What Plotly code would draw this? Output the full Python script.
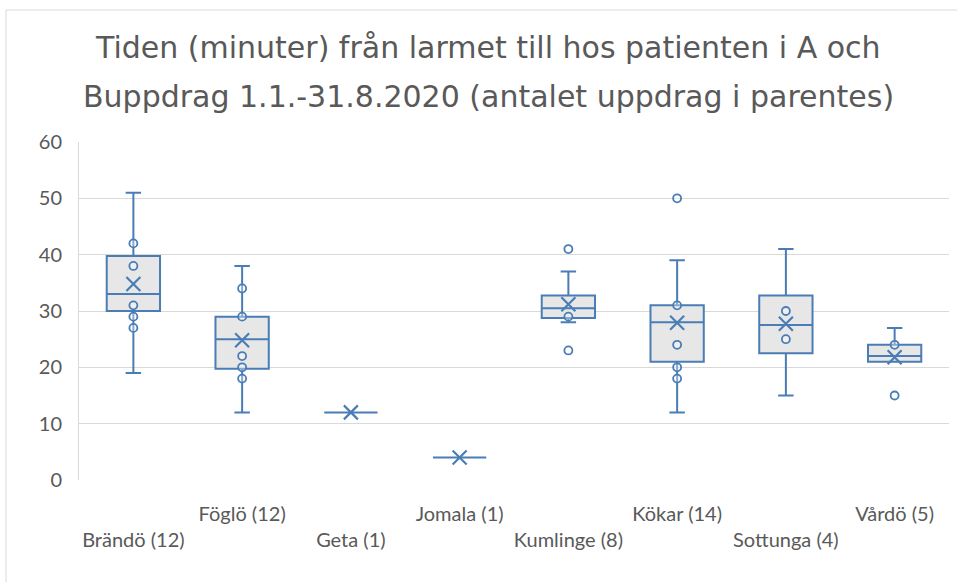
import plotly.graph_objects as go

categories = ["Brändö (12)", "Föglö (12)", "Geta (1)", "Jomala (1)",
              "Kumlinge (8)", "Kökar (14)", "Sottunga (4)", "Vårdö (5)"]
lower_whisker = [19, 12, 12, 4, 28, 12, 15, 21]
q1 = [30, 19.75, 12, 4, 28.75, 21, 22.5, 21]
median = [33, 25, 12, 4, 30.5, 28, 27.5, 22]
q3 = [39.75, 29, 12, 4, 32.75, 31, 32.75, 24]
upper_whisker = [51, 38, 12, 4, 37, 39, 41, 27]
mean = [34.8, 24.8, 12, 4, 31.2, 27.9, 27.75, 21.8]
inner_points = [[42, 38, 31, 29, 27], [34, 29, 22, 20, 18], [], [], [29],
                [31, 24, 20, 18], [30, 25], [24]]
outliers = [[], [], [], [], [41, 23], [50], [], [15]]
y_ticks = [0, 10, 20, 30, 40, 50, 60]
title_lines = ["Tiden (minuter) från larmet till hos patienten i A och",
               "Buppdrag 1.1.-31.8.2020 (antalet uppdrag i parentes)"]

BLUE = "#4a7db5"
GRAY_TXT = "#595959"
W, H = 958, 583
ML, MR, MT, MB = 79, 9, 142, 103
PW, PH = W - ML - MR, H - MT - MB

fig = go.Figure()
fig.add_trace(go.Box(
    x=categories, q1=q1, median=median, q3=q3,
    lowerfence=lower_whisker, upperfence=upper_whisker,
    boxpoints=False, width=0.49, whiskerwidth=0.29,
    fillcolor="#e7e7e7", line=dict(color=BLUE, width=2),
    hoverinfo="skip", showlegend=False,
))

px, py = [], []
for c, pts, outs in zip(categories, inner_points, outliers):
    for v in pts + outs:
        px.append(c)
        py.append(v)
fig.add_trace(go.Scatter(
    x=px, y=py, mode="markers", showlegend=False,
    marker=dict(symbol="circle", size=8, color="rgba(255,255,255,0.35)",
                line=dict(color=BLUE, width=1.8)),
))
fig.add_trace(go.Scatter(
    x=categories, y=mean, mode="markers", showlegend=False,
    marker=dict(symbol="x-thin-open", size=14, color=BLUE,
                line=dict(color=BLUE, width=2.2)),
))

ticktext = [("<br>" + c) if i % 2 == 0 else c for i, c in enumerate(categories)]

def paper_y(pix):
    return 1 - (pix - MT) / PH

def paper_x(pix):
    return (pix - ML) / PW

annotations = []
for line, ypix in zip(title_lines, [47, 96]):
    annotations.append(dict(
        text=line, xref="paper", yref="paper", x=paper_x(488), y=paper_y(ypix),
        xanchor="center", yanchor="middle", showarrow=False,
        font=dict(family="DejaVu Sans", size=30, color=GRAY_TXT),
    ))

shapes = [
    dict(type="line", xref="paper", yref="paper", x0=paper_x(6), x1=paper_x(W - 1),
         y0=paper_y(10), y1=paper_y(10), line=dict(color="#d9d9d9", width=1)),
    dict(type="line", xref="paper", yref="paper", x0=paper_x(6), x1=paper_x(6),
         y0=paper_y(10), y1=paper_y(H - 1), line=dict(color="#d9d9d9", width=1)),
]

fig.update_layout(
    width=W, height=H,
    margin=dict(l=ML, r=MR, t=MT, b=MB),
    plot_bgcolor="white", paper_bgcolor="white",
    annotations=annotations, shapes=shapes,
    font=dict(family="Lato", color=GRAY_TXT, size=20),
    xaxis=dict(type="category", categoryorder="array", categoryarray=categories,
               range=[-0.5, len(categories) - 0.5],
               tickmode="array", tickvals=categories, ticktext=ticktext,
               showgrid=False, showline=False, ticks="",
               ticklabelstandoff=20,
               tickfont=dict(family="Lato", size=20, color=GRAY_TXT)),
    yaxis=dict(range=[0, 60], tickvals=y_ticks, showgrid=True,
               gridcolor="#d9d9d9", gridwidth=1, zeroline=False,
               showline=True, linecolor="#d9d9d9", linewidth=1, ticks="",
               ticklabelstandoff=12,
               tickfont=dict(family="Lato", size=20, color=GRAY_TXT)),
)

fig.write_html("out.html", config={"displayModeBar": False},
               post_script="document.body.style.margin='0';"
                           "document.body.style.overflow='hidden';")
